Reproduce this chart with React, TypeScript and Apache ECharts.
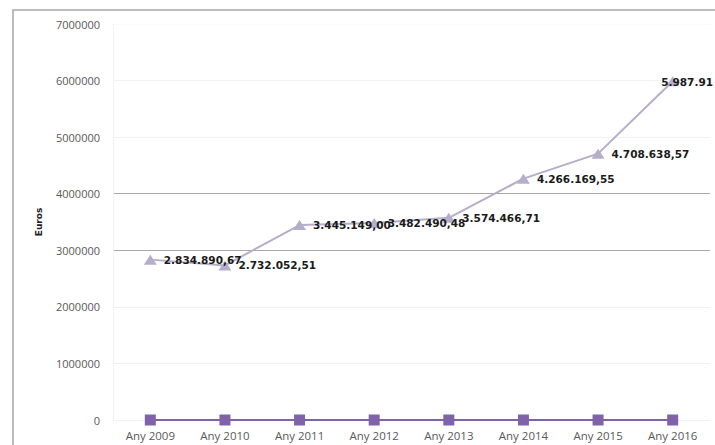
import React, { useEffect, useRef } from "react";
import * as echarts from "echarts";

const categories = ["Any 2009", "Any 2010", "Any 2011", "Any 2012", "Any 2013", "Any 2014", "Any 2015", "Any 2016"];
const totalValues = [2834890.67, 2732052.51, 3445149.0, 3482490.48, 3574466.71, 4266169.55, 4708638.57, 5987910];
const totalLabels = ["2.834.890,67", "2.732.052,51", "3.445.149,00", "3.482.490,48", "3.574.466,71", "4.266.169,55", "4.708.638,57", "5.987.91"];
const secondValues = [0, 0, 0, 0, 0, 0, 0, 0];
const yTicks = [0, 1000000, 2000000, 3000000, 4000000, 5000000, 6000000, 7000000];

export default function App() {
  const ref = useRef<HTMLDivElement>(null);
  useEffect(() => {
    if (!ref.current) return;
    const chart = echarts.init(ref.current, null, { renderer: "svg" });
    const faint = "#f1f1f1";
    const dark = "#a8a8a8";
    const splitColors = yTicks.map((v) => (v === 3000000 || v === 4000000 ? dark : v === 7000000 ? "#fafafa" : faint));
    const lastIdx = totalValues.length - 1;
    chart.setOption({
      animation: false,
      backgroundColor: "#ffffff",
      graphic: [
        {
          type: "rect",
          z: -10,
          shape: { x: 13, y: 10, width: 800, height: 500 },
          style: { fill: "none", stroke: "#a6a6a6", lineWidth: 1.5 },
        },
      ],
      grid: { left: 113, right: 5, top: 24, bottom: 25, containLabel: false },
      xAxis: {
        type: "category",
        data: categories,
        boundaryGap: true,
        axisLine: { show: false },
        axisTick: { show: false },
        axisLabel: { color: "#595959", fontSize: 11.5, margin: 9, fontFamily: "Open Sans" },
        splitLine: { show: false },
      },
      yAxis: {
        type: "value",
        min: 0,
        max: 7000000,
        interval: 1000000,
        name: "Euros",
        nameLocation: "middle",
        nameGap: 70,
        nameRotate: 90,
        nameTextStyle: { color: "#222222", fontSize: 9, fontWeight: "bold", fontFamily: "DejaVu Sans" },
        axisLine: { show: true, lineStyle: { color: "#f2f2f2" } },
        axisTick: { show: false },
        axisLabel: {
          color: "#595959",
          fontSize: 11,
          margin: 13,
          fontFamily: "Open Sans",
          formatter: (v: number) => String(v),
        },
        splitLine: { show: true, lineStyle: { color: splitColors, width: 1 } },
      },
      series: [
        {
          type: "line",
          data: secondValues,
          symbol: "rect",
          symbolSize: 11,
          lineStyle: { color: "#7f62a8", width: 2 },
          itemStyle: { color: "#7f62a8" },
          z: 3,
        },
        {
          type: "line",
          data: totalValues.map((v, i) =>
            i === lastIdx
              ? { value: v, label: { offset: [-25, 1] } }
              : { value: v }
          ),
          symbol: "triangle",
          symbolSize: [13, 10],
          lineStyle: { color: "#b6adcb", width: 2 },
          itemStyle: { color: "#b6adcb" },
          label: {
            show: true,
            position: "right",
            distance: 7,
            color: "#1a1a1a",
            fontSize: 10.5,
            fontWeight: "bold",
            fontFamily: "DejaVu Sans",
            formatter: (p: any) => totalLabels[p.dataIndex],
          },
          z: 4,
        },
      ],
    });
    return () => chart.dispose();
  }, []);
  return <div ref={ref} style={{ position: "fixed", left: 0, top: 0, width: 715, height: 445 }} />;
}
